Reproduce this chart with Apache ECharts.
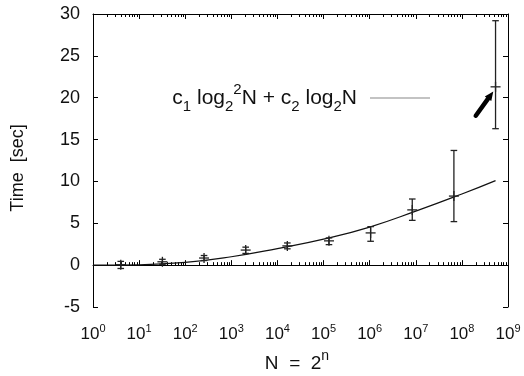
<!DOCTYPE html>
<html><head><meta charset="utf-8">
<script src="https://cdn.jsdelivr.net/npm/echarts@6/dist/echarts.min.js"></script>
<style>html,body{margin:0;padding:0;background:#fff}#c{width:524px;height:376px}</style>
</head><body><div id="c"></div>
<script>
// Measured points: N = 2^n
const nValues   = [2, 5, 8, 11, 14, 17, 20, 23, 26, 29];
const timeMean  = [0.05, 0.4, 0.85, 1.8, 2.3, 2.9, 3.85, 6.6, 8.25, 21.3];
const timeLow   = [-0.4, 0.1, 0.55, 1.4, 1.95, 2.45, 2.85, 5.35, 5.2, 16.3];
const timeHigh  = [0.45, 0.7, 1.15, 2.15, 2.65, 3.25, 4.6, 7.9, 13.7, 29.2];
// Fitted curve c1 log2^2 N + c2 log2 N
const fitN      = [1, 10, 1e2, 1e3, 1e4, 1e5, 1e6, 1e7, 1e8, 536870912];
const fitTime   = [0, 0.04, 0.32, 1.0, 1.98, 3.1, 4.55, 6.45, 8.5, 10.1];
// Arrow annotation (data coordinates)
const arrowTail = [2.0e8, 17.85];
const arrowHead = [4.8e8, 20.75];
// Ticks
const xTickValues    = [1, 10, 1e2, 1e3, 1e4, 1e5, 1e6, 1e7, 1e8, 1e9];
const xTickExponents = ['0','1','2','3','4','5','6','7','8','9'];
const yMin = -5, yMax = 30, yStep = 5;

const xMinorValues = [];
for (let k = 0; k < 9; k++) for (let m = 2; m <= 9; m++) xMinorValues.push(m * Math.pow(10, k));

const FONT = "'Liberation Sans', Arial, Helvetica, sans-serif";
const INK = '#111';

const pointData = nValues.map((n, i) => [Math.pow(2, n), timeMean[i], timeLow[i], timeHigh[i]]);
const fitData = fitN.map((x, i) => [x, fitTime[i]]);

const baseX = {
  type: 'log', logBase: 10, min: 1, max: 1e9, gridIndex: 0,
  splitLine: { show: false }, minorTick: { show: false }, minorSplitLine: { show: false }
};

const chart = echarts.init(document.getElementById('c'), null, { renderer: 'canvas' });
chart.setOption({
  animation: false,
  backgroundColor: '#fff',
  textStyle: { fontFamily: FONT },
  grid: { left: 93, right: 16, top: 14, bottom: 69, containLabel: false, outerBoundsMode: 'none' },
  legend: {
    data: ['fit'], right: 94, top: 82, padding: 0, align: 'right',
    icon: 'rect', itemWidth: 60, itemHeight: 1,
    itemStyle: { color: '#888', borderWidth: 0 },
    formatter: function () {
      return '{n|c}{sub|1}{n| log}{sub|2}{sup|2}{n|N + c}{sub|2}{n| log}{sub|2}{n|N}';
    },
    textStyle: {
      padding: [0, 8, 0, 0],
      rich: {
        n:   { fontSize: 21, lineHeight: 32, verticalAlign: 'middle', color: INK, fontFamily: FONT },
        sub: { fontSize: 15, lineHeight: 18, verticalAlign: 'bottom', color: INK, fontFamily: FONT },
        sup: { fontSize: 15, lineHeight: 14, verticalAlign: 'top', color: INK, fontFamily: FONT }
      }
    }
  },
  xAxis: [
    Object.assign({}, baseX, {
      position: 'bottom',
      axisLine: { show: true, lineStyle: { color: '#000', width: 1 } },
      axisTick: { show: true, inside: true, length: 5, customValues: xTickValues, lineStyle: { color: '#000' } },
      axisLabel: {
        show: true, margin: 16, customValues: xTickValues,
        formatter: function (v) {
          const i = xTickValues.findIndex(t => Math.abs(Math.log10(t) - Math.log10(v)) < 1e-6);
          return '{b|10}{s|' + (i >= 0 ? xTickExponents[i] : '') + '}';
        },
        rich: {
          b: { fontSize: 17, lineHeight: 20, verticalAlign: 'bottom', color: INK, fontFamily: FONT },
          s: { fontSize: 11, lineHeight: 13, verticalAlign: 'top', color: INK, fontFamily: FONT }
        }
      },
      name: '{n|N  =  2}{s|n}', nameLocation: 'middle', nameGap: 42,
      nameTextStyle: {
        padding: [0, 7, 0, 0],
        rich: {
          n: { fontSize: 19, lineHeight: 24, verticalAlign: 'bottom', color: INK, fontFamily: FONT },
          s: { fontSize: 14, lineHeight: 11, verticalAlign: 'top', color: INK, fontFamily: FONT }
        }
      }
    }),
    Object.assign({}, baseX, {
      position: 'bottom',
      axisLine: { show: false },
      axisTick: { show: true, inside: true, length: 3, customValues: xMinorValues, lineStyle: { color: '#000' } },
      axisLabel: { show: false }
    }),
    Object.assign({}, baseX, {
      position: 'top',
      axisLine: { show: true, lineStyle: { color: '#000', width: 1 } },
      axisTick: { show: true, inside: true, length: 5, customValues: xTickValues, lineStyle: { color: '#000' } },
      axisLabel: { show: false }
    }),
    Object.assign({}, baseX, {
      position: 'top',
      axisLine: { show: false },
      axisTick: { show: true, inside: true, length: 3, customValues: xMinorValues, lineStyle: { color: '#000' } },
      axisLabel: { show: false }
    })
  ],
  yAxis: [
    {
      type: 'value', min: yMin, max: yMax, interval: yStep, position: 'left',
      axisLine: { show: true, lineStyle: { color: '#000', width: 1 } },
      axisTick: { show: true, inside: true, length: 5, lineStyle: { color: '#000' } },
      axisLabel: { margin: 13, fontSize: 18, color: INK, fontFamily: FONT },
      splitLine: { show: false },
      name: 'Time  [sec]', nameLocation: 'middle', nameGap: 66,
      nameTextStyle: { fontSize: 18, color: INK, fontFamily: FONT, padding: [0, 15, 0, 0] }
    },
    {
      type: 'value', min: yMin, max: yMax, interval: yStep, position: 'right',
      axisLine: { show: true, lineStyle: { color: '#000', width: 1 } },
      axisTick: { show: true, inside: true, length: 5, lineStyle: { color: '#000' } },
      axisLabel: { show: false },
      splitLine: { show: false }
    }
  ],
  series: [
    {
      name: 'fit', type: 'line', xAxisIndex: 0, yAxisIndex: 0,
      data: fitData, smooth: true, symbol: 'none', showSymbol: false,
      lineStyle: { color: '#111', width: 1.2 }, itemStyle: { color: '#888' }, z: 2
    },
    {
      name: 'measured', type: 'custom', xAxisIndex: 0, yAxisIndex: 0,
      data: pointData, encode: { x: 0, y: [1, 2, 3] }, z: 3,
      renderItem: function (params, api) {
        const p = api.coord([api.value(0), api.value(1)]);
        const lo = api.coord([api.value(0), api.value(2)]);
        const hi = api.coord([api.value(0), api.value(3)]);
        const st = { stroke: '#222', lineWidth: 1.3 };
        const cap = 3.3, arm = 5;
        return {
          type: 'group',
          children: [
            { type: 'line', shape: { x1: p[0], y1: lo[1], x2: p[0], y2: hi[1] }, style: st },
            { type: 'line', shape: { x1: p[0] - cap, y1: lo[1], x2: p[0] + cap, y2: lo[1] }, style: st },
            { type: 'line', shape: { x1: p[0] - cap, y1: hi[1], x2: p[0] + cap, y2: hi[1] }, style: st },
            { type: 'line', shape: { x1: p[0] - arm, y1: p[1], x2: p[0] + arm, y2: p[1] }, style: st },
            { type: 'line', shape: { x1: p[0], y1: p[1] - arm, x2: p[0], y2: p[1] + arm }, style: st }
          ]
        };
      }
    },
    {
      name: 'arrow', type: 'custom', xAxisIndex: 0, yAxisIndex: 0,
      data: [[arrowTail[0], arrowTail[1], arrowHead[0], arrowHead[1]]],
      encode: { x: [0, 2], y: [1, 3] }, z: 4,
      renderItem: function (params, api) {
        const a = api.coord([api.value(0), api.value(1)]);
        const b = api.coord([api.value(2), api.value(3)]);
        const dx = b[0] - a[0], dy = b[1] - a[1];
        const L = Math.sqrt(dx * dx + dy * dy);
        const ux = dx / L, uy = dy / L, px = -uy, py = ux;
        const hl = 9, hw = 4;
        const bx = b[0] - ux * hl, by = b[1] - uy * hl;
        return {
          type: 'group',
          children: [
            { type: 'line', shape: { x1: a[0], y1: a[1], x2: bx + ux * 1, y2: by + uy * 1 },
              style: { stroke: '#000', lineWidth: 4.5, lineCap: 'round' } },
            { type: 'polygon', shape: { points: [[b[0], b[1]], [bx + px * hw, by + py * hw], [bx - px * hw, by - py * hw]] },
              style: { fill: '#000' } }
          ]
        };
      }
    }
  ]
});
</script>
</body></html>
